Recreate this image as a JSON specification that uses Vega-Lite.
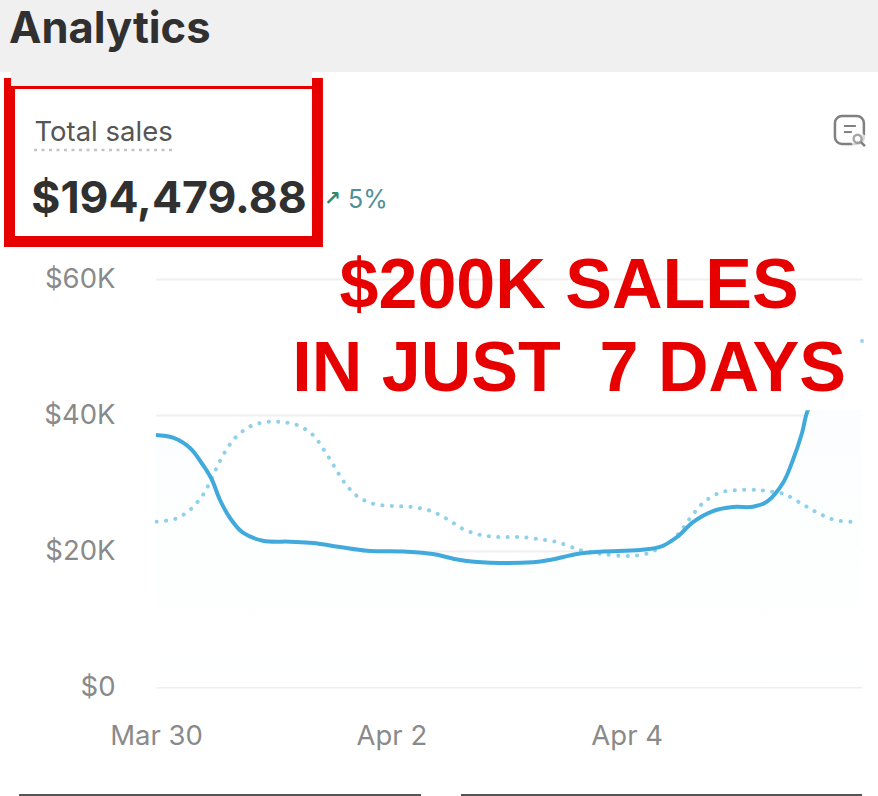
{"$schema":"https://vega.github.io/schema/vega-lite/v6.json","width":706,"height":408,"autosize":"none","padding":{"left":156,"top":279,"right":16,"bottom":109},"background":"white","config":{"view":{"stroke":null}},
"datasets":{"current":[{"day":0,"sales":37060},{"day":0.144,"sales":36660},{"day":0.289,"sales":35150},{"day":0.399,"sales":32650},{"day":0.476,"sales":30440},{"day":0.544,"sales":27500},{"day":0.629,"sales":24850},{"day":0.739,"sales":22690},{"day":0.909,"sales":21510},{"day":1.139,"sales":21370},{"day":1.334,"sales":21180},{"day":1.564,"sales":20590},{"day":1.793,"sales":20040},{"day":2.133,"sales":19900},{"day":2.354,"sales":19560},{"day":2.584,"sales":18680},{"day":2.838,"sales":18280},{"day":3.204,"sales":18340},{"day":3.348,"sales":18680},{"day":3.578,"sales":19560},{"day":3.773,"sales":19900},{"day":4.113,"sales":20150},{"day":4.283,"sales":20590},{"day":4.428,"sales":22060},{"day":4.564,"sales":24260},{"day":4.734,"sales":25880},{"day":4.904,"sales":26470},{"day":5.073,"sales":26500},{"day":5.192,"sales":27250},{"day":5.328,"sales":30000},{"day":5.413,"sales":33380},{"day":5.49,"sales":37350},{"day":5.541,"sales":40740},{"day":5.685,"sales":44410},{"day":5.855,"sales":48380},{"day":6,"sales":50880}],
"previous":[{"day":0.006,"sales":24310},{"day":0.161,"sales":24710},{"day":0.229,"sales":25290},{"day":0.297,"sales":26180},{"day":0.399,"sales":28240},{"day":0.442,"sales":29560},{"day":0.51,"sales":32060},{"day":0.586,"sales":34560},{"day":0.68,"sales":36760},{"day":0.807,"sales":38380},{"day":0.96,"sales":39010},{"day":1.037,"sales":39010},{"day":1.198,"sales":38530},{"day":1.334,"sales":37060},{"day":1.428,"sales":34850},{"day":1.513,"sales":32500},{"day":1.598,"sales":30150},{"day":1.708,"sales":28090},{"day":1.853,"sales":26910},{"day":2.014,"sales":26620},{"day":2.176,"sales":26470},{"day":2.337,"sales":25880},{"day":2.473,"sales":24710},{"day":2.609,"sales":23240},{"day":2.762,"sales":22350},{"day":2.923,"sales":22060},{"day":3.085,"sales":22060},{"day":3.246,"sales":21760},{"day":3.408,"sales":21320},{"day":3.552,"sales":20440},{"day":3.629,"sales":20000},{"day":3.79,"sales":19560},{"day":4.028,"sales":19260},{"day":4.19,"sales":19710},{"day":4.275,"sales":20440},{"day":4.368,"sales":21320},{"day":4.453,"sales":22790},{"day":4.547,"sales":25000},{"day":4.649,"sales":27060},{"day":4.785,"sales":28530},{"day":4.946,"sales":28970},{"day":5.107,"sales":28970},{"day":5.192,"sales":28820},{"day":5.337,"sales":28380},{"day":5.49,"sales":26910},{"day":5.626,"sales":25590},{"day":5.77,"sales":24560},{"day":5.932,"sales":24260}]},
"encoding":{"x":{"type":"quantitative","scale":{"domain":[0,6],"nice":false,"zero":false}},"y":{"type":"quantitative","scale":{"domain":[0,60000],"nice":false}}},
"layer":[
{"data":{"name":"current"},"mark":{"type":"area","interpolate":"catmull-rom","color":{"gradient":"linear","x1":0,"y1":0,"x2":0,"y2":1,"stops":[{"offset":0,"color":"#fafdfe"},{"offset":1,"color":"#ffffff"}]}},"encoding":{"x":{"field":"day","type":"quantitative","title":null,"axis":{"values":[0,2,4],"labelExpr":"datum.value==0?'Mar 30':datum.value==2?'Apr 2':'Apr 4'","grid":false,"domain":false,"ticks":false,"labelPadding":35,"labelFontSize":27.5,"labelFont":"Inter","labelColor":"#8a8a8a","labelFlush":false,"labelBound":false,"labelOverlap":false}},"y":{"field":"sales","type":"quantitative","title":null,"axis":{"values":[0,20000,40000,60000],"labelExpr":"'$'+(datum.value/1000)+(datum.value?'K':'')","grid":true,"gridColor":"#efefef","gridWidth":2,"domain":false,"ticks":false,"labelPadding":41,"labelFontSize":27.5,"labelFont":"Inter","labelColor":"#8a8a8a"}}}},
{"data":{"name":"previous"},"mark":{"type":"line","interpolate":"catmull-rom","color":"#8fd0ea","strokeWidth":4,"strokeCap":"round","strokeDash":[0.1,9.3]},"encoding":{"x":{"field":"day","type":"quantitative"},"y":{"field":"sales","type":"quantitative"}}},
{"data":{"name":"current"},"mark":{"type":"line","interpolate":"catmull-rom","color":"#41a9dc","strokeWidth":4},"encoding":{"x":{"field":"day","type":"quantitative"},"y":{"field":"sales","type":"quantitative"}}},
{"data":{"values":[{}]},"mark":{"type":"rect","color":"white"},"encoding":{"x":{"datum":1.139},"x2":{"datum":6.04},"y":{"datum":55000},"y2":{"datum":40700}}},
{"data":{"values":[{}]},"mark":{"type":"rect","fill":null,"stroke":"#e60000","strokeWidth":11},"encoding":{"x":{"datum":-1.245},"x2":{"datum":1.372},"y":{"datum":88750},"y2":{"datum":65510}}},
{"data":{"values":[{}]},"mark":{"type":"rect","color":"#f0f0f0"},"encoding":{"x":{"datum":-1.326},"x2":{"datum":6.136},"y":{"datum":101030},"y2":{"datum":90440}}},
{"data":{"values":[{}]},"mark":{"type":"rect","color":"#f0f0f0"},"encoding":{"x":{"datum":-1.232},"x2":{"datum":1.326},"y":{"datum":90500},"y2":{"datum":88380}}},
{"data":{"values":[{"t":"Analytics"}]},"mark":{"type":"text","align":"left","baseline":"alphabetic","font":"Inter","fontWeight":700,"fontSize":43.5,"color":"#303030"},"encoding":{"text":{"field":"t"},"x":{"datum":-1.25},"y":{"datum":94700}}},
{"data":{"values":[{"t":"Total sales"}]},"mark":{"type":"text","align":"left","baseline":"alphabetic","font":"Inter","fontSize":27.5,"color":"#555555"},"encoding":{"text":{"field":"t"},"x":{"datum":-1.033},"y":{"datum":80300}}},
{"data":{"values":[{}]},"mark":{"type":"rule","color":"#c4c4c4","strokeWidth":2.5,"strokeDash":[3,4.5]},"encoding":{"x":{"datum":-1.037},"x2":{"datum":0.144},"y":{"datum":78970}}},
{"data":{"values":[{"t":"$194,479.88"}]},"mark":{"type":"text","align":"left","baseline":"alphabetic","font":"Inter","fontWeight":700,"fontSize":44.5,"color":"#303030"},"encoding":{"text":{"field":"t"},"x":{"datum":-1.06},"y":{"datum":69700}}},
{"data":{"values":[{"t":"↗"}]},"mark":{"type":"text","align":"center","baseline":"middle","font":"DejaVu Sans","fontWeight":700,"fontSize":20,"color":"#2a8a78"},"encoding":{"text":{"field":"t"},"x":{"datum":1.5},"y":{"datum":71800}}},
{"data":{"values":[{"t":"5%"}]},"mark":{"type":"text","align":"left","baseline":"alphabetic","font":"Inter","fontSize":25,"color":"#4f8f96"},"encoding":{"text":{"field":"t"},"x":{"datum":1.632},"y":{"datum":70500}}},
{"data":{"values":[{"t":"$200K SALES"}]},"mark":{"type":"text","align":"center","baseline":"alphabetic","font":"Liberation Sans","fontWeight":700,"fontSize":70,"color":"#e60000"},"encoding":{"text":{"field":"t"},"x":{"datum":3.511},"y":{"datum":55700}}},
{"data":{"values":[{"t":"IN JUST\u00a0 7 DAYS"}]},"mark":{"type":"text","align":"center","baseline":"alphabetic","font":"Liberation Sans","fontWeight":700,"fontSize":70,"color":"#e60000"},"encoding":{"text":{"field":"t"},"x":{"datum":3.511},"y":{"datum":43500}}},
{"data":{"values":[{}]},"mark":{"type":"point","filled":true,"color":"#6cc0e6","size":16},"encoding":{"x":{"datum":6},"y":{"datum":50880}}},
{"data":{"values":[{}]},"mark":{"type":"rect","fill":null,"stroke":"#808080","strokeWidth":2.5,"cornerRadius":7},"encoding":{"x":{"datum":5.77},"x2":{"datum":6.016},"y":{"datum":83970},"y2":{"datum":79850}}},
{"data":{"values":[{}]},"mark":{"type":"rule","color":"#808080","strokeWidth":2},"encoding":{"x":{"datum":5.846},"x2":{"datum":5.948},"y":{"datum":82500}}},
{"data":{"values":[{}]},"mark":{"type":"rule","color":"#808080","strokeWidth":2},"encoding":{"x":{"datum":5.846},"x2":{"datum":5.914},"y":{"datum":81610}}},
{"data":{"values":[{}]},"mark":{"type":"point","filled":true,"color":"white","size":260},"encoding":{"x":{"datum":5.978},"y":{"datum":80250}}},
{"data":{"values":[{}]},"mark":{"type":"point","filled":false,"stroke":"#808080","strokeWidth":2.4,"size":64},"encoding":{"x":{"datum":5.963},"y":{"datum":80630}}},
{"data":{"values":[{}]},"mark":{"type":"rule","color":"#808080","strokeWidth":2.4},"encoding":{"x":{"datum":5.991},"x2":{"datum":6.025},"y":{"datum":80140},"y2":{"datum":79550}}},
{"data":{"values":[{}]},"mark":{"type":"rule","color":"#555555","strokeWidth":2},"encoding":{"x":{"datum":-1.164},"x2":{"datum":2.252},"y":{"datum":-15880}}},
{"data":{"values":[{}]},"mark":{"type":"rule","color":"#555555","strokeWidth":2},"encoding":{"x":{"datum":2.592},"x2":{"datum":6},"y":{"datum":-15880}}}
]}
